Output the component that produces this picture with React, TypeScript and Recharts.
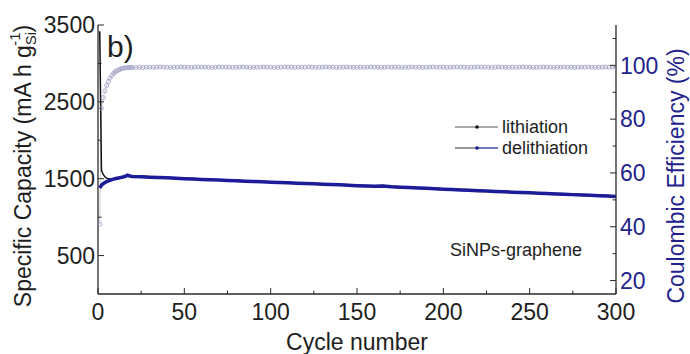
import { LineChart, Line, XAxis, YAxis } from 'recharts'

// capacity is read at every cycle up to 20, then every 5 cycles
const capCycles = [
  1, 2, 3, 4, 5, 6, 7, 8, 9, 10, 11, 12, 13, 14, 15, 16, 17, 18, 19, 20,
  25, 30, 35, 40, 45, 50, 55, 60, 65, 70, 75, 80, 85, 90, 95, 100,
  105, 110, 115, 120, 125, 130, 135, 140, 145, 150, 155, 160, 165, 170, 175, 180,
  185, 190, 195, 200, 205, 210, 215, 220, 225, 230, 235, 240, 245, 250, 255, 260,
  265, 270, 275, 280, 285, 290, 295, 300,
]

const lithiation = [
  3420, 1610, 1555, 1525, 1508, 1498, 1496, 1498, 1502, 1507, 1512, 1516, 1521, 1526, 1531, 1537, 1550, 1543, 1538, 1536,
  1531, 1526, 1522, 1517, 1512, 1506, 1502, 1497, 1493, 1488, 1484, 1479, 1474, 1470, 1465, 1461,
  1456, 1452, 1448, 1443, 1439, 1434, 1430, 1426, 1421, 1416, 1411, 1407, 1412, 1402, 1396, 1391,
  1386, 1381, 1375, 1370, 1365, 1360, 1355, 1350, 1345, 1340, 1336, 1331, 1326, 1322, 1317, 1313,
  1308, 1304, 1299, 1295, 1290, 1285, 1280, 1274,
]

const delithiation = [
  1380, 1415, 1435, 1450, 1462, 1472, 1480, 1488, 1494, 1500, 1505, 1510, 1515, 1520, 1526, 1532, 1545, 1538, 1532, 1530,
  1525, 1520, 1516, 1511, 1506, 1500, 1496, 1491, 1487, 1482, 1478, 1473, 1468, 1464, 1459, 1455,
  1450, 1446, 1442, 1437, 1433, 1428, 1424, 1420, 1415, 1410, 1405, 1401, 1406, 1396, 1390, 1385,
  1380, 1375, 1369, 1364, 1359, 1354, 1349, 1344, 1339, 1334, 1330, 1325, 1320, 1316, 1311, 1307,
  1302, 1298, 1293, 1289, 1284, 1279, 1274, 1268,
]

// coulombic efficiency: every cycle up to 20, then every 2nd cycle
const ceCycles = [
  1, 2, 3, 4, 5, 6, 7, 8, 9, 10, 11, 12, 13, 14, 15, 16, 17, 18, 19, 20,
  22, 24, 26, 28, 30, 32, 34, 36, 38, 40, 42, 44, 46, 48, 50, 52, 54, 56, 58, 60,
  62, 64, 66, 68, 70, 72, 74, 76, 78, 80, 82, 84, 86, 88, 90, 92, 94, 96, 98, 100,
  102, 104, 106, 108, 110, 112, 114, 116, 118, 120, 122, 124, 126, 128, 130, 132, 134, 136, 138, 140,
  142, 144, 146, 148, 150, 152, 154, 156, 158, 160, 162, 164, 166, 168, 170, 172, 174, 176, 178, 180,
  182, 184, 186, 188, 190, 192, 194, 196, 198, 200, 202, 204, 206, 208, 210, 212, 214, 216, 218, 220,
  222, 224, 226, 228, 230, 232, 234, 236, 238, 240, 242, 244, 246, 248, 250, 252, 254, 256, 258, 260,
  262, 264, 266, 268, 270, 272, 274, 276, 278, 280, 282, 284, 286, 288, 290, 292, 294, 296, 298, 300,
]

const efficiency = [
  41, 84, 88, 90.5, 92.5, 94, 95.2, 96.2, 97, 97.6, 98, 98.3, 98.6, 98.8, 99, 99.1, 99.1, 99.2, 99.2, 99.2,
  99.2, 99.3, 99.2, 99.3, 99.3, 99.2, 99.3, 99.4, 99.3, 99.3, 99.2, 99.3, 99.3, 99.4, 99.3, 99.3, 99.2, 99.3, 99.4, 99.3,
  99.3, 99.3, 99.2, 99.3, 99.4, 99.3, 99.3, 99.3, 99.2, 99.3, 99.3, 99.4, 99.3, 99.2, 99.3, 99.3, 99.3, 99.4, 99.3, 99.3,
  99.2, 99.3, 99.3, 99.4, 99.3, 99.3, 99.2, 99.3, 99.3, 99.3, 99.4, 99.3, 99.2, 99.3, 99.3, 99.4, 99.3, 99.3, 99.2, 99.3,
  99.3, 99.4, 99.3, 99.3, 99.2, 99.3, 99.3, 99.3, 99.4, 99.3, 99.3, 99.2, 99.3, 99.4, 99.3, 99.3, 99.3, 99.2, 99.3, 99.3,
  99.4, 99.3, 99.3, 99.2, 99.3, 99.3, 99.4, 99.3, 99.3, 99.3, 99.2, 99.3, 99.3, 99.4, 99.3, 99.3, 99.2, 99.3, 99.3, 99.4,
  99.3, 99.3, 99.3, 99.2, 99.3, 99.4, 99.3, 99.3, 99.2, 99.3, 99.3, 99.3, 99.4, 99.3, 99.3, 99.2, 99.3, 99.3, 99.4, 99.3,
  99.3, 99.2, 99.3, 99.3, 99.4, 99.3, 99.3, 99.2, 99.3, 99.3, 99.3, 99.4, 99.3, 99.2, 99.3, 99.3, 99.4, 99.3, 99.3, 99.3,
]

const xTicks = [0, 25, 50, 75, 100, 125, 150, 175, 200, 225, 250, 275, 300]
const xLabels = [0, 50, 100, 150, 200, 250, 300]
const capTicks = [500, 1000, 1500, 2000, 2500, 3000, 3500]
const capLabels = [500, 1500, 2500, 3500]
const ceTicks = [20, 30, 40, 50, 60, 70, 80, 90, 100, 110]
const ceLabels = [20, 40, 60, 80, 100]

const FONT = '"Liberation Sans", Arial, Helvetica, sans-serif'
const INK = '#1e1e1e'
const NAVY = '#23238c'
const AXIS = '#2a2a2a'
const BLUE = '#1c1c98'
const CE_COLOR = '#9c9cc2'

const W = 690
const H = 354

const capData = capCycles.map((c, i) => ({ cycle: c, lith: lithiation[i], delith: delithiation[i] }))
const ceData = ceCycles.map((c, i) => ({ cycle: c, ce: efficiency[i] }))

// inward tick marks (Origin style), labels only on major values
function axisTick(side: 'bottom' | 'top' | 'left' | 'right', labels: number[], color: string) {
  return (props: any) => {
    const { x, y, payload } = props
    const v = payload.value
    const major = labels.includes(v)
    const len = major ? 6 : 3.5
    const txt = { fontFamily: FONT, fontSize: 23, fill: color }
    if (side === 'bottom') {
      return (
        <g>
          <line x1={x} y1={y} x2={x} y2={y - len} stroke={AXIS} strokeWidth={1} />
          {major && <text x={x} y={y + 9} dy="0.72em" textAnchor="middle" {...txt}>{v}</text>}
        </g>
      )
    }
    if (side === 'top') {
      return <line x1={x} y1={y} x2={x} y2={y + len} stroke={AXIS} strokeWidth={1} />
    }
    if (side === 'left') {
      return (
        <g>
          <line x1={x} y1={y} x2={x + len} y2={y} stroke={AXIS} strokeWidth={1} />
          {major && <text x={x - 3} y={y} dy="0.36em" textAnchor="end" {...txt}>{v}</text>}
        </g>
      )
    }
    return (
      <g>
        <line x1={x} y1={y} x2={x - len} y2={y} stroke={AXIS} strokeWidth={1} />
        {major && <text x={x + 4} y={y} dy="0.36em" textAnchor="start" {...txt}>{v}</text>}
      </g>
    )
  }
}

function Overlay() {
  const t = { fontFamily: FONT, fill: INK }
  return (
    <svg width={W} height={H} style={{ position: 'absolute', left: 0, top: 0, pointerEvents: 'none' }}>
      <text x={107} y={57} fontSize={30} {...t}>b)</text>
      <text transform="rotate(-90 23 166)" x={23} y={166} dy="0.36em" textAnchor="middle" fontSize={23} {...t}>
        Specific Capacity (mA h g
        <tspan fontSize={15} dy={5}>Si</tspan>
        <tspan fontSize={15} dx={-14} dy={-16}>-1</tspan>
        <tspan dy={11}>)</tspan>
      </text>
      <text transform="rotate(-90 676 176)" x={676} y={176} dy="0.36em" textAnchor="middle" fontSize={23}
        fontFamily={FONT} fill={NAVY}>
        Coulombic Efficiency (%)
      </text>
      <text x={357} y={350} textAnchor="middle" fontSize={23} {...t}>Cycle number</text>
      <text x={450} y={256} fontSize={18} {...t}>SiNPs-graphene</text>

      {/* legend */}
      <line x1={455} y1={127} x2={498} y2={127} stroke="#555" strokeWidth={1.2} />
      <circle cx={477} cy={127} r={1.8} fill="#111" />
      <text x={502} y={127} dy="0.36em" fontSize={18} {...t}>lithiation</text>
      <line x1={455} y1={148} x2={477} y2={148} stroke="#555" strokeWidth={1.2} />
      <line x1={477} y1={148} x2={498} y2={148} stroke={BLUE} strokeWidth={1.2} />
      <circle cx={477} cy={148} r={1.8} fill={BLUE} />
      <text x={502} y={148} dy="0.36em" fontSize={18} {...t}>delithiation</text>
    </svg>
  )
}

export default function App() {
  return (
    <div style={{ position: 'absolute', left: 0, top: 0, width: W, height: H, background: '#fff' }}>
      <LineChart width={W} height={H} margin={{ top: 25, right: 0, bottom: 0, left: 0 }}>
        <XAxis
          xAxisId="bottom" dataKey="cycle" type="number" domain={[0, 300]} ticks={xTicks}
          interval={0} height={60} tickSize={0} tickMargin={0} tickLine={false}
          axisLine={{ stroke: AXIS, strokeWidth: 1.3 }} tick={axisTick('bottom', xLabels, INK)}
          allowDataOverflow
        />
        <XAxis
          xAxisId="top" orientation="top" dataKey="cycle" type="number" domain={[0, 300]} ticks={xTicks}
          interval={0} height={0} tickSize={0} tickMargin={0} tickLine={false}
          axisLine={{ stroke: AXIS, strokeWidth: 1.3 }} tick={axisTick('top', xLabels, INK)}
          allowDataOverflow
        />
        <YAxis
          yAxisId="left" type="number" domain={[0, 3500]} ticks={capTicks} interval={0} width={98}
          tickSize={0} tickMargin={0} tickLine={false}
          axisLine={{ stroke: AXIS, strokeWidth: 1.3 }} tick={axisTick('left', capLabels, INK)}
          allowDataOverflow
        />
        <YAxis
          yAxisId="right" orientation="right" type="number" domain={[15, 115]} ticks={ceTicks} interval={0}
          width={74} tickSize={0} tickMargin={0} tickLine={false}
          axisLine={{ stroke: AXIS, strokeWidth: 1.3 }} tick={axisTick('right', ceLabels, NAVY)}
          allowDataOverflow
        />
        <Line
          xAxisId="bottom" yAxisId="right" data={ceData} dataKey="ce" type="linear"
          stroke="#b9b9cf" strokeWidth={0.7}
          dot={{ r: 2, stroke: CE_COLOR, strokeWidth: 0.8, fill: 'none' }}
          isAnimationActive={false}
        />
        <Line
          xAxisId="bottom" yAxisId="left" data={capData} dataKey="lith" type="linear"
          stroke="#111" strokeWidth={1.5} dot={false} isAnimationActive={false}
        />
        <Line
          xAxisId="bottom" yAxisId="left" data={capData} dataKey="delith" type="linear"
          stroke={BLUE} strokeWidth={3.5} dot={false} isAnimationActive={false}
        />
      </LineChart>
      <Overlay />
    </div>
  )
}
